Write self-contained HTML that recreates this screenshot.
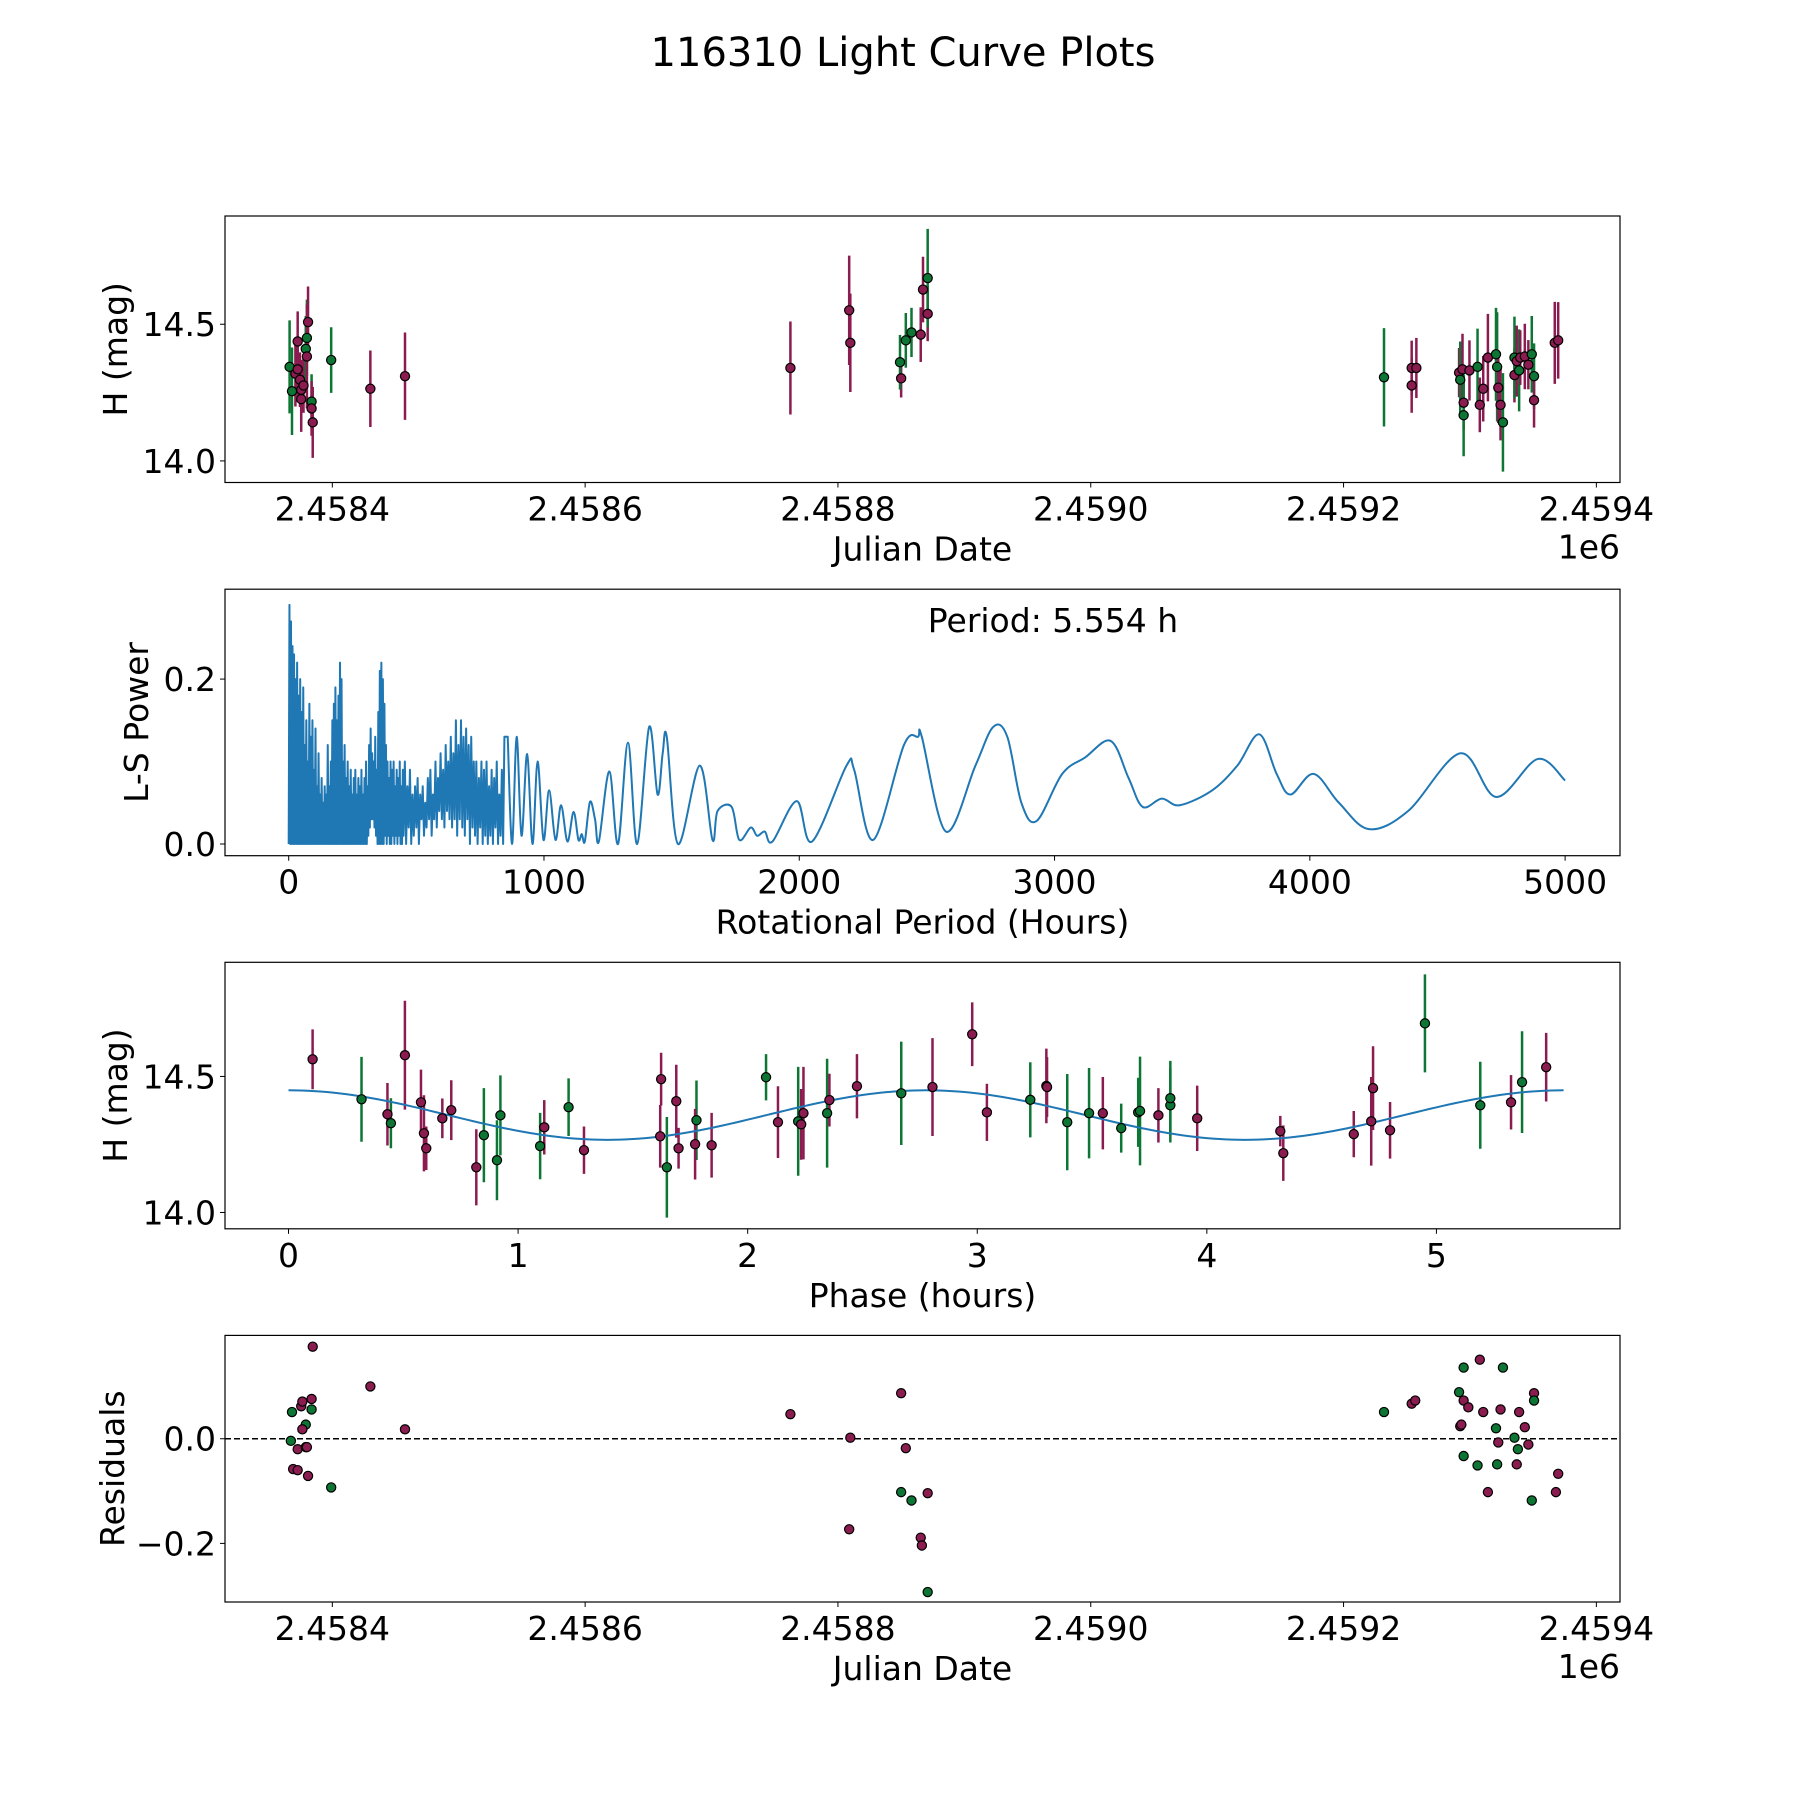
<!DOCTYPE html>
<html><head><meta charset="utf-8"><style>
html,body{margin:0;padding:0;background:#fff}
svg{display:block}
text{font-family:"DejaVu Sans","Liberation Sans",sans-serif;fill:#000}
</style></head><body>
<svg id="fig" width="1800" height="1800" viewBox="0 0 1800 1800" xmlns="http://www.w3.org/2000/svg">
<rect width="1800" height="1800" fill="#fff"/>
<text x="903" y="66" font-size="40" text-anchor="middle">116310 Light Curve Plots</text>
</svg>
<script>
// ---------- Panel 1: raw light curve ----------
const lcJD = [2458366.2,2458368.1,2458370.8,2458372.6,2458372.6,2458374.4,2458375.4,2458375.4,2458377.2,2458379.0,2458379.9,2458379.9,2458380.8,2458383.6,2458383.6,2458384.5,2458399.1,2458430.1,2458457.5,
2458762.4,2458808.9,2458809.8,2458850.0,2458849.1,2458853.7,2458858.2,2458865.5,2458867.3,2458871.0,2458871.0,
2459232.0,2459253.9,2459253.9,2459257.6,2459291.4,2459292.3,2459294.1,2459295.0,2459295.0,2459299.6,2459306.0,2459307.8,2459310.5,2459314.2,2459320.6,2459321.5,2459322.4,2459324.2,2459326.1,2459335.2,2459335.2,2459337.0,2459338.9,2459339.8,2459343.4,2459346.2,2459348.9,2459350.7,2459350.7,2459367.1,2459369.8];
const lcMag = [14.344,14.255,14.319,14.437,14.335,14.297,14.26,14.226,14.276,14.41,14.45,14.382,14.508,14.217,14.192,14.141,14.369,14.264,14.31,
14.34,14.551,14.432,14.302,14.361,14.441,14.47,14.462,14.627,14.538,14.669,
14.306,14.276,14.34,14.34,14.323,14.297,14.335,14.213,14.167,14.331,14.344,14.205,14.264,14.378,14.39,14.344,14.268,14.205,14.141,14.314,14.378,14.365,14.331,14.378,14.382,14.352,14.39,14.31,14.222,14.432,14.441];
const lcErr = [0.17,0.16,0.12,0.11,0.12,0.1,0.11,0.12,0.1,0.12,0.14,0.19,0.13,0.1,0.1,0.13,0.12,0.14,0.16,
0.17,0.2,0.18,0.07,0.1,0.1,0.09,0.1,0.12,0.1,0.18,
0.18,0.1,0.1,0.11,0.09,0.14,0.13,0.1,0.15,0.11,0.14,0.1,0.12,0.16,0.17,0.2,0.13,0.13,0.18,0.1,0.15,0.13,0.15,0.1,0.12,0.09,0.14,0.12,0.1,0.15,0.14];
const lcBand = "GGMMMMMMMGGMMGMMGMM"+"MMMMGGGMMMG"+"GMMMMGMMGMGMMMGGMMGMGMGMMMGGMMM";

// ---------- Panel 2: periodogram ----------
const lsDenseStart = 0, lsDenseStep = 6;
const lsDensePeaks = [0.29,0.27,0.24,0.23,0.2,0.22,0.18,0.2,0.16,0.19,0.12,0.15,0.1,0.17,0.13,0.15,0.09,0.14,0.07,0.11,0.06,0.08,0.05,0.07,0.06,0.12,0.07,0.1,0.15,0.17,0.19,0.15,0.18,0.22,0.2,0.1,0.12,0.08,0.1,0.07,0.09,0.06,0.08,0.09,0.06,0.08,0.07,0.09,0.06,0.08,0.1,0.07,0.12,0.14,0.11,0.1,0.13,0.09,0.16,0.21,0.22,0.2,0.17,0.12,0.1,0.08,0.1,0.09,0.1,0.07,0.09,0.08,0.1,0.07,0.09];
const lsDenseTroughs = [0,0,0,0,0,0,0,0,0,0,0,0,0,0,0,0,0,0,0,0,0,0,0,0,0,0,0,0,0,0,0,0,0,0,0,0,0,0,0,0,0,0,0,0,0,0,0,0,0,0,0,0,0.01,0.02,0.03,0.03,0.02,0.01,0,0,0,0,0,0.01,0,0.01,0,0,0.01,0,0.01,0,0.01,0,0];
const lsMidStart = 450, lsMidStep = 10;
const lsMidPeaks = [0.1,0.07,0.09,0.06,0.07,0.08,0.06,0.07,0.05,0.08,0.09,0.06,0.1,0.08,0.11,0.09,0.12,0.1,0.13,0.11,0.15,0.12,0.15,0.13,0.14,0.12,0.13,0.1,0.1,0.08,0.1,0.09,0.1,0.07,0.09,0.08,0.1,0.06,0.09,0.13];
const lsMidTroughs = [0.01,0,0.02,0,0.01,0.02,0,0.03,0.01,0.02,0.03,0.01,0.03,0.02,0.04,0.03,0.02,0.04,0.03,0.02,0.03,0.01,0.03,0.02,0.01,0.03,0,0.02,0.01,0,0.02,0,0.01,0,0.01,0,0.02,0,0.01,0];
const lsSmoothP = [858,875,893,912,934,955,975,998,1020,1045,1067,1092,1116,1135,1148,1160,1180,1200,1215,1256,1290,1329,1365,1412,1445,1465,1481,1525,1610,1660,1680,1735,1765,1810,1835,1865,1895,1990,2050,2185,2215,2290,2410,2465,2480,2575,2690,2760,2815,2870,2930,3030,3120,3220,3290,3345,3420,3490,3617,3716,3802,3870,3924,4015,4114,4232,4385,4590,4730,4892,5000];
const lsSmoothPow = [0.13,0.0,0.13,0.01,0.109,0.0,0.1,0.005,0.065,0.005,0.047,0.003,0.039,0.005,0.012,0.003,0.051,0.03,0.003,0.088,0.0,0.123,0.0,0.142,0.06,0.11,0.13,0.0,0.095,0.005,0.04,0.045,0.005,0.02,0.01,0.015,0.003,0.052,0.003,0.095,0.09,0.005,0.12,0.13,0.13,0.015,0.095,0.142,0.13,0.05,0.028,0.085,0.105,0.125,0.08,0.045,0.055,0.047,0.065,0.095,0.133,0.085,0.06,0.085,0.05,0.018,0.04,0.11,0.057,0.103,0.077];
const bestPeriodLabel = "Period: 5.554 h";

// ---------- Panel 3: phased curve ----------
const phPhase = [0.105,0.318,0.431,0.446,0.507,0.577,0.59,0.6,0.67,0.709,0.818,0.851,0.908,0.923,1.096,1.114,1.22,1.287,1.623,1.619,1.648,1.689,1.699,1.777,1.771,1.843,2.08,2.132,2.22,2.233,2.243,2.346,2.356,2.476,2.669,2.805,2.978,3.042,3.231,3.301,3.304,3.392,3.487,3.547,3.627,3.701,3.709,3.789,3.841,3.841,3.958,4.32,4.333,4.64,4.716,4.724,4.798,4.95,5.191,5.325,5.373,5.478];
const phMag = [14.563,14.416,14.361,14.328,14.578,14.405,14.291,14.236,14.346,14.376,14.166,14.284,14.192,14.357,14.244,14.313,14.387,14.229,14.49,14.28,14.166,14.409,14.236,14.339,14.251,14.247,14.497,14.332,14.335,14.324,14.365,14.365,14.413,14.464,14.438,14.461,14.655,14.368,14.414,14.465,14.461,14.332,14.365,14.365,14.31,14.368,14.373,14.357,14.394,14.42,14.346,14.299,14.218,14.288,14.335,14.457,14.302,14.695,14.394,14.405,14.479,14.534];
const phErr = [0.11,0.156,0.115,0.092,0.2,0.12,0.14,0.08,0.073,0.11,0.14,0.173,0.147,0.147,0.122,0.1,0.106,0.087,0.097,0.115,0.185,0.134,0.075,0.146,0.13,0.119,0.085,0.132,0.2,0.13,0.17,0.2,0.097,0.118,0.19,0.18,0.117,0.105,0.138,0.137,0.11,0.177,0.166,0.133,0.09,0.127,0.2,0.1,0.137,0.137,0.12,0.056,0.102,0.085,0.163,0.154,0.104,0.18,0.16,0.1,0.187,0.126];
const phBand = "MGMGMMMMMMMGGGGMGMMMGMMGMMGMGMMGMMGMMMGMMGGMGGGMGGMMMMMMMGGMGM";
const fitMean = [14.358], fitAmp = [0.091], fitPeriod = [5.554];

// ---------- Panel 4: residuals ----------
const resJD = [2458384.5,2458430.1,2458368.1,2458375.4,2458376.3,2458383.6,2458383.6,2458379.0,2458376.3,2458367.2,2458372.6,2458379.0,2458379.9,2458369.0,2458372.6,2458380.8,2458399.1,2458457.5,
2458762.4,2458809.8,2458808.9,2458850.0,2458853.7,2458850.0,2458858.2,2458871.0,2458865.5,2458866.4,2458871.0,
2459232.0,2459253.9,2459256.7,2459291.4,2459295.0,2459298.7,2459295.0,2459307.8,2459326.1,2459310.5,2459324.2,2459338.9,2459350.7,2459350.7,2459292.3,2459293.2,2459320.6,2459343.4,2459335.2,2459322.4,2459346.2,2459337.9,2459295.0,2459306.0,2459321.5,2459337.0,2459369.8,2459314.2,2459368.0,2459348.9];
const resVal = [0.176,0.1,0.051,0.062,0.071,0.076,0.056,0.027,0.018,-0.004,-0.02,-0.016,-0.016,-0.058,-0.06,-0.071,-0.093,0.018,
0.047,0.002,-0.173,0.087,-0.018,-0.102,-0.118,-0.104,-0.189,-0.204,-0.293,
0.051,0.067,0.073,0.089,0.073,0.06,0.136,0.151,0.136,0.051,0.056,0.051,0.087,0.073,0.024,0.027,0.02,0.022,0.002,-0.007,-0.011,-0.02,-0.033,-0.051,-0.049,-0.049,-0.067,-0.102,-0.102,-0.118];
const resBand = "MMGMMMGGMGMMMMMMGM"+"MMMMMGGMMMG"+"GMMGMMGMGMMMMGMMGMGMMGGGGMMMMG";

// ---------- ticks ----------
const jdTicks = [2458400,2458600,2458800,2459000,2459200,2459400];
const jdTickLabels = ["2.4584","2.4586","2.4588","2.4590","2.4592","2.4594"];
const magTicks = [14.0,14.5], magTickLabels = ["14.0","14.5"];
const perTicks = [0,1000,2000,3000,4000,5000], perTickLabels = ["0","1000","2000","3000","4000","5000"];
const powTicks = [0,0.2], powTickLabels = ["0.0","0.2"];
const phTicks = [0,1,2,3,4,5], phTickLabels = ["0","1","2","3","4","5"];
const resTicks = [-0.2,0], resTickLabels = ["\u22120.2","0.0"];

const NS = "http://www.w3.org/2000/svg";
const svg = document.getElementById('fig');
const COL = {M:"#8a1c50", G:"#0d7634"};
const FS = 33;
function el(tag, attrs, parent){const e=document.createElementNS(NS,tag);for(const k in attrs)e.setAttribute(k,attrs[k]);(parent||svg).appendChild(e);return e;}
function scale(d0,d1,r0,r1){return v=>r0+(v-d0)/(d1-d0)*(r1-r0);}

const L=225,R=1620;
function makeAxes(name, top, bottom, xd, yd, xt, xtl, yt, ytl, xlabel, ylabel, ylabX, offsetTxt){
  const g = el('g',{});
  
  
  const x = scale(xd[0],xd[1],L,R), y = scale(yd[0],yd[1],bottom,top);
  const plot = el('g',{},g);
  
  
  const clipId = name+'-clip';
  const cp = el('clipPath',{id:clipId},g); el('rect',{x:L,y:top,width:R-L,height:bottom-top},cp);
  plot.setAttribute('clip-path','url(#'+clipId+')');
  xt.forEach((t,i)=>{const px=x(t);
    const tk=el('line',{x1:px,x2:px,y1:bottom,y2:bottom+5,stroke:'#000','stroke-width':1},g);
    
    
    const tl=el('text',{x:px,y:bottom+38,'font-size':FS,'text-anchor':'middle'},g); tl.textContent=xtl[i];
    
    
  });
  yt.forEach((t,i)=>{const py=y(t);
    const tk=el('line',{x1:L-5,x2:L,y1:py,y2:py,stroke:'#000','stroke-width':1},g);
    
    
    const tl=el('text',{x:L-9,y:py+12,'font-size':FS,'text-anchor':'end'},g); tl.textContent=ytl[i];
    
    
  });
  const xl=el('text',{x:(L+R)/2,y:bottom+78,'font-size':FS,'text-anchor':'middle'},g); xl.textContent=xlabel;
  
  
  const cy=(top+bottom)/2;
  const yl=el('text',{x:ylabX,y:cy,'font-size':FS,'text-anchor':'middle',transform:`rotate(-90 ${ylabX} ${cy})`},g); yl.textContent=ylabel;
  
  
  if(offsetTxt){const o=el('text',{x:R,y:bottom+76,'font-size':FS,'text-anchor':'end'},g);o.textContent=offsetTxt;
    
    }
  return {g,plot,x,y,top,bottom};
}
function frame(a){const f=el('rect',{x:L,y:a.top,width:R-L,height:a.bottom-a.top,fill:'none',stroke:'#000','stroke-width':1.2},a.g);
  
  }
function errPoint(a,xv,yv,ev,c){
  const px=a.x(xv);
  const b=el('line',{x1:px,x2:px,y1:a.y(yv-ev),y2:a.y(yv+ev),stroke:COL[c],'stroke-width':2.5},a.plot);
  
  
}
function dot(a,xv,yv,c){
  const d=el('circle',{cx:a.x(xv),cy:a.y(yv),r:4.6,fill:COL[c],stroke:'#000','stroke-width':1.2},a.plot);
  
  
}

// Panel 1
const a1 = makeAxes('light-curve-axes',216,482.5,[2458315.1,2459418.7],[13.921,14.896],jdTicks,jdTickLabels,magTicks,magTickLabels,'Julian Date','H (mag)',127,'1e6');
lcJD.forEach((j,i)=>errPoint(a1,j,lcMag[i],lcErr[i],lcBand[i]));
lcJD.forEach((j,i)=>dot(a1,j,lcMag[i],lcBand[i]));
frame(a1);

// Panel 2
const a2 = makeAxes('periodogram-axes',589.2,855.7,[-249.5,5215],[-0.0142,0.309],perTicks,perTickLabels,powTicks,powTickLabels,'Rotational Period (Hours)','L-S Power',148,null);
(function(){
  let pts=[];
  lsDensePeaks.forEach((p,i)=>{const b=lsDenseStart+i*lsDenseStep;pts.push([b,lsDenseTroughs[i]]);pts.push([b+lsDenseStep/2,p]);});
  lsMidPeaks.forEach((p,i)=>{const b=lsMidStart+i*lsMidStep;pts.push([b,lsMidTroughs[i]]);pts.push([b+lsMidStep/2,p]);});
  let d='M'+pts.map(q=>a2.x(q[0]).toFixed(2)+','+a2.y(q[1]).toFixed(2)).join('L');
  const sp=lsSmoothP.map((p,i)=>[a2.x(p),a2.y(lsSmoothPow[i])]);
  d+='L'+sp[0][0].toFixed(2)+','+sp[0][1].toFixed(2);
  for(let i=0;i<sp.length-1;i++){
    const p0=sp[Math.max(0,i-1)],p1=sp[i],p2=sp[i+1],p3=sp[Math.min(sp.length-1,i+2)];
    const c1=[p1[0]+(p2[0]-p0[0])/6,p1[1]+(p2[1]-p0[1])/6],c2=[p2[0]-(p3[0]-p1[0])/6,p2[1]-(p3[1]-p1[1])/6];
    d+=`C${c1[0].toFixed(2)},${c1[1].toFixed(2)} ${c2[0].toFixed(2)},${c2[1].toFixed(2)} ${p2[0].toFixed(2)},${p2[1].toFixed(2)}`;
  }
  const line=el('path',{d:d,fill:'none',stroke:'#1f77b4','stroke-width':2,'stroke-linejoin':'round'},a2.plot);
  
  
  const t=el('text',{x:1053,y:632,'font-size':FS,'text-anchor':'middle'},a2.g); t.textContent=bestPeriodLabel;
  
  
})();
frame(a2);

// Panel 3
const a3 = makeAxes('phase-curve-axes',962.3,1228.8,[-0.2766,5.7996],[13.940,14.9195],phTicks,phTickLabels,magTicks,magTickLabels,'Phase (hours)','H (mag)',127,null);
phPhase.forEach((p,i)=>errPoint(a3,p,phMag[i],phErr[i],phBand[i]));
(function(){
  let d='';
  for(let k=0;k<=200;k++){const ph=fitPeriod[0]*k/200;const m=fitMean[0]+fitAmp[0]*Math.cos(4*Math.PI*ph/fitPeriod[0]);
    d+=(k?'L':'M')+a3.x(ph).toFixed(2)+','+a3.y(m).toFixed(2);}
  const f=el('path',{d:d,fill:'none',stroke:'#1f77b4','stroke-width':2},a3.plot);
  
  
})();
phPhase.forEach((p,i)=>dot(a3,p,phMag[i],phBand[i]));
frame(a3);

// Panel 4
const a4 = makeAxes('residuals-axes',1335.4,1602,[2458315.1,2459418.7],[-0.312,0.1975],jdTicks,jdTickLabels,resTicks,resTickLabels,'Julian Date','Residuals',124,'1e6');
(function(){
  const z=el('line',{x1:L,x2:R,y1:a4.y(0),y2:a4.y(0),stroke:'#000','stroke-width':1.6,'stroke-dasharray':'6,3'},a4.plot);
  
  
})();
resJD.forEach((j,i)=>dot(a4,j,resVal[i],resBand[i]));
frame(a4);
</script>
</body></html>
